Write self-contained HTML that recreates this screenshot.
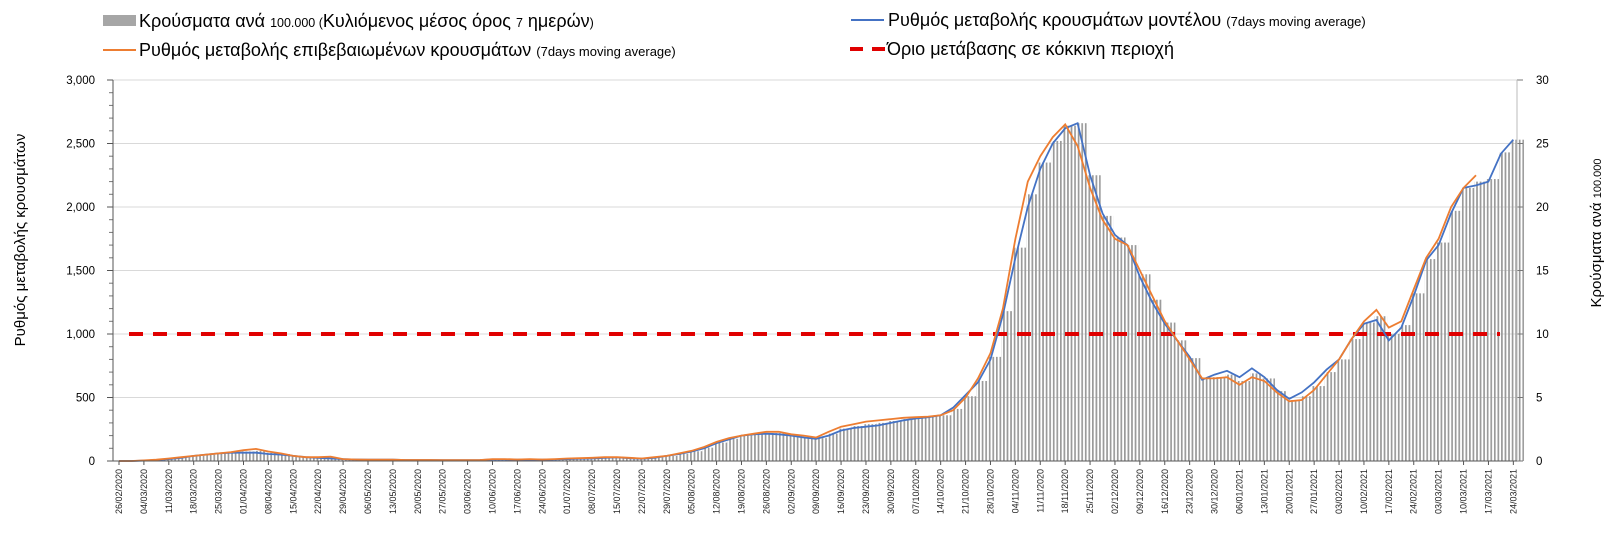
<!DOCTYPE html>
<html><head><meta charset="utf-8">
<style>
body{margin:0;background:#fff;width:1615px;height:552px;overflow:hidden;font-family:"Liberation Sans","Noto Sans CJK SC",sans-serif;}
svg{display:block}
</style></head>
<body>
<svg id="chart" width="1615" height="552" viewBox="0 0 1615 552" xmlns="http://www.w3.org/2000/svg">
<defs>
<pattern id="stripes" width="3.557" height="10" patternUnits="userSpaceOnUse">
<rect x="0" y="0" width="1.7" height="10" fill="#9a9a9a"/>
</pattern>
</defs>
<g>
<rect x="103" y="15" width="33" height="11" fill="#a6a6a6"/>
<text x="139" y="27" font-size="18" fill="#000">Κρούσματα ανά <tspan font-size="12.5">100.000 (</tspan>Κυλιόμενος μέσος όρος <tspan font-size="12.5">7</tspan> ημερών<tspan font-size="12.5">)</tspan></text>
<line x1="103" y1="50" x2="136" y2="50" stroke="#ed7d31" stroke-width="2"/>
<text x="139" y="56" font-size="18" fill="#000">Ρυθμός μεταβολής επιβεβαιωμένων κρουσμάτων <tspan font-size="13">(7days moving average)</tspan></text>
<line x1="851" y1="20" x2="884" y2="20" stroke="#4472c4" stroke-width="2"/>
<text x="888" y="26" font-size="18" fill="#000">Ρυθμός μεταβολής κρουσμάτων μοντέλου <tspan font-size="13">(7days moving average)</tspan></text>
<line x1="850" y1="49" x2="886" y2="49" stroke="#e00000" stroke-width="4" stroke-dasharray="13 9"/>
<text x="887" y="55" font-size="18" fill="#000">Όριο μετάβασης σε κόκκινη περιοχή</text>
</g>
<text transform="translate(25,240) rotate(-90)" text-anchor="middle" font-size="15" fill="#000">Ρυθμός μεταβολής κρουσμάτων</text>
<text transform="translate(1601,233) rotate(-90)" text-anchor="middle" font-size="15" fill="#000">Κρούσματα ανά <tspan font-size="11">100.000</tspan></text>
<g id="grid"></g>
<g id="bars"></g>
<g id="lines"></g>
<g id="axes"></g>
</svg>
<script>
const leftTicks=[0,500,1000,1500,2000,2500,3000];
const leftTickLabels=["0","500","1,000","1,500","2,000","2,500","3,000"];
const rightTicks=[0,5,10,15,20,25,30];
const threshold=1000;
const dateLabels=["26/02/2020","04/03/2020","11/03/2020","18/03/2020","25/03/2020","01/04/2020","08/04/2020","15/04/2020","22/04/2020","29/04/2020","06/05/2020","13/05/2020","20/05/2020","27/05/2020","03/06/2020","10/06/2020","17/06/2020","24/06/2020","01/07/2020","08/07/2020","15/07/2020","22/07/2020","29/07/2020","05/08/2020","12/08/2020","19/08/2020","26/08/2020","02/09/2020","09/09/2020","16/09/2020","23/09/2020","30/09/2020","07/10/2020","14/10/2020","21/10/2020","28/10/2020","04/11/2020","11/11/2020","18/11/2020","25/11/2020","02/12/2020","09/12/2020","16/12/2020","23/12/2020","30/12/2020","06/01/2021","13/01/2021","20/01/2021","27/01/2021","03/02/2021","10/02/2021","17/02/2021","24/02/2021","03/03/2021","10/03/2021","17/03/2021","24/03/2021"];
// half-week resolution (every 3.5 days from 26/02/2020)
const orangeValues=[0,0,5,10,20,30,40,50,60,70,85,95,75,60,40,30,30,35,15,12,10,10,10,8,8,8,6,6,6,8,15,15,12,15,12,15,20,22,25,30,30,25,20,30,40,60,80,110,150,180,200,215,230,230,210,200,185,230,270,290,310,320,330,340,345,350,360,400,500,650,850,1200,1750,2200,2400,2550,2650,2480,2150,1900,1750,1700,1500,1300,1100,950,800,650,650,660,600,660,630,540,470,480,560,680,800,960,1100,1190,1050,1100,1350,1600,1750,2000,2150,2250,null,null,null];
const blueValues=[0,0,3,8,15,25,40,50,60,65,65,65,55,50,40,30,25,20,15,12,10,10,10,8,8,8,6,6,6,8,12,12,10,12,10,12,15,18,20,25,28,22,18,25,40,55,75,100,140,170,200,210,215,210,200,185,175,200,240,260,270,280,300,320,335,345,360,420,520,620,800,1150,1600,2000,2300,2500,2620,2660,2250,1950,1780,1700,1450,1250,1080,950,820,640,680,710,660,730,660,560,490,540,620,720,800,960,1080,1110,950,1050,1300,1580,1700,1950,2150,2170,2200,2420,2530];
const barValues=[0,0,0.4,0.9,1.7,2.7,4,5,6,6.7,7.5,8,6.5,5.5,4,3,2.7,2.7,1.5,1.2,1,1,1,0.8,0.8,0.8,0.6,0.6,0.6,0.8,1.3,1.3,1.1,1.3,1.1,1.3,1.7,2,2.2,2.7,2.9,2.3,1.9,2.7,4,5.7,7.7,10.5,14.5,17.5,20,21,22,22,20.5,19,18,21.5,25.5,27.5,29,30,31.5,33,34,35,36,41,51,63,82,118,168,210,235,252,264,266,225,193,176,170,147,127,109,95,81,65,66,68,63,69,65,55,48,51,59,70,80,96,109,114,100,107,132,159,172,197,215,220,222,243,253];

const NS="http://www.w3.org/2000/svg";
const PL=113,PR=1517,PT=80,PB=461,X0=119,DAYPX=3.557;
const xDay=d=>X0+d*DAYPX;
const yLeft=v=>PB-(v/3000)*(PB-PT);
const yRight=v=>PB-(v/30)*(PB-PT);
function mk(tag,attrs,parent){const e=document.createElementNS(NS,tag);for(const k in attrs)e.setAttribute(k,attrs[k]);parent.appendChild(e);return e;}
const grid=document.getElementById('grid'),bars=document.getElementById('bars'),lines=document.getElementById('lines'),axes=document.getElementById('axes');

leftTicks.forEach((t,i)=>{
  if(t>0){const g=mk('line',{x1:PL,x2:PR,y1:yLeft(t),y2:yLeft(t),stroke:'#d9d9d9','stroke-width':1},grid);
  
  }
  const tx=mk('text',{x:95,y:yLeft(t)+4,'text-anchor':'end','font-size':11.5,fill:'#000'},axes);
  tx.textContent=leftTickLabels[i];
  
  
  mk('line',{x1:PL-6,x2:PL,y1:yLeft(t),y2:yLeft(t),stroke:'#555'},axes);
  if(i<leftTicks.length-1){for(let m=1;m<5;m++){const v=t+m*100;mk('line',{x1:PL-4,x2:PL,y1:yLeft(v),y2:yLeft(v),stroke:'#777'},axes);}}
});
rightTicks.forEach(t=>{
  const tx=mk('text',{x:1536,y:yRight(t)+4,'font-size':11.5,fill:'#000'},axes);
  tx.textContent=String(t);
  
  
  mk('line',{x1:PR,x2:PR+6,y1:yRight(t),y2:yRight(t),stroke:'#777'},axes);
});
barValues.forEach((v,i)=>{
  const d=i*3.5,x=xDay(d)-1.75,h=PB-yRight(v/10);
  const r=mk('rect',{x:x,y:PB-h,width:DAYPX*3.5,height:h,fill:'url(#stripes)'},bars);
  
  
});
function path(vals){let s='',pen=false;vals.forEach((v,i)=>{if(v===null){pen=false;return;}s+=(pen?'L':'M')+xDay(i*3.5).toFixed(1)+' '+yLeft(v).toFixed(1);pen=true;});return s;}
const th=mk('line',{x1:129,x2:1500,y1:yLeft(threshold),y2:yLeft(threshold),stroke:'#e00000','stroke-width':4,'stroke-dasharray':'14 10'},lines);


const bl=mk('path',{d:path(blueValues),fill:'none',stroke:'#4472c4','stroke-width':1.8},lines);


const ol=mk('path',{d:path(orangeValues),fill:'none',stroke:'#ed7d31','stroke-width':1.8},lines);


mk('line',{x1:PL,x2:PL,y1:PT,y2:PB,stroke:'#555'},axes);
mk('line',{x1:PR,x2:PR,y1:PT,y2:PB,stroke:'#bbb'},axes);
mk('line',{x1:PL,x2:PR,y1:PB,y2:PB,stroke:'#555'},axes);
dateLabels.forEach((lab,k)=>{
  const x=xDay(k*7);
  mk('line',{x1:x,x2:x,y1:PB,y2:PB+4,stroke:'#555'},axes);
  const tx=mk('text',{transform:`translate(${x+3},${PB+8}) rotate(-90)`,'text-anchor':'end','font-size':9,fill:'#222'},axes);
  tx.textContent=lab;
  
  
});
</script>
</body></html>
